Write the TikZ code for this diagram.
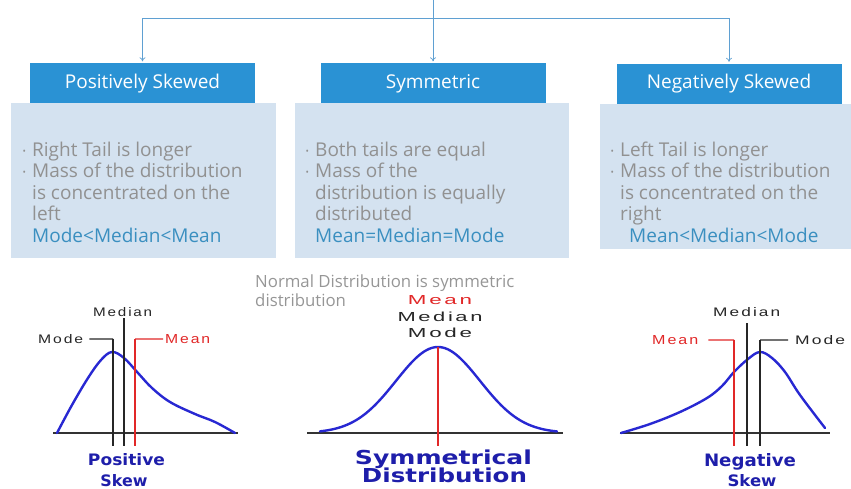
\documentclass[tikz,border=0pt]{standalone}
\usepackage{fontspec}
\setmainfont{Open Sans}
\newfontfamily\chartfont[LetterSpace=12]{Liberation Sans}
\newfontfamily\skewfont{DejaVu Sans}
\usetikzlibrary{arrows.meta,calc}
\definecolor{hdrblue}{RGB}{42,146,212}
\definecolor{lightbox}{RGB}{212,226,240}
\definecolor{graytxt}{RGB}{145,145,145}
\definecolor{notegray}{RGB}{150,150,150}
\definecolor{bluetxt}{RGB}{58,143,192}
\definecolor{connblue}{RGB}{95,160,210}
\definecolor{curveblue}{RGB}{40,40,210}
\definecolor{skewblue}{RGB}{30,30,170}
\definecolor{meanred}{RGB}{225,40,40}
\newcommand{\bul}{\makebox[9.5pt][l]{\raisebox{2pt}{\fontsize{9}{9}\selectfont •}}}
\newcommand{\ind}{\hspace*{9.5pt}}
\newcommand{\lbl}[3]{\resizebox{#1pt}{#2pt}{\chartfont #3}}
\newcommand{\skl}[3]{\resizebox{#1pt}{#2pt}{\skewfont\bfseries #3}}
\begin{document}
\begin{tikzpicture}[x=1pt,y=-1pt,
  hdr/.style={fill=hdrblue, text=white, minimum width=225pt, minimum height=40pt, inner sep=0pt, font=\fontsize{19}{21}\selectfont},
  lbox/.style={fill=lightbox, draw=none},
  boxtext/.style={anchor=north west, align=left, inner sep=0pt, text=graytxt, font=\fontsize{19}{21.5}\selectfont},
  conn/.style={draw=connblue, line width=0.7pt},
  arr/.style={conn, -{To[length=4pt,width=6pt]}},
  curve/.style={draw=curveblue, line width=2.4pt, line join=round, line cap=round},
  axis/.style={draw=black!80, line width=1.7pt},
  blk/.style={draw=black!85, line width=1.3pt},
  red/.style={draw=meanred, line width=1.3pt},
  clab/.style={inner sep=0pt, text=black!85},
  rlab/.style={clab, text=meanred},
  skewlab/.style={inner sep=0pt, anchor=base, text=skewblue},
  note/.style={inner sep=0pt, anchor=base west, text=notegray, font=\fontsize{16.8}{18}\selectfont}
]
\path[use as bounding box] (0,0) rectangle (851,489);

% light boxes
\path[lbox] (11,103) rectangle (276,258);
\path[lbox] (295,103) rectangle (569,258);
\path[lbox] (600,104) rectangle (851,249);

% headers
\node[hdr] (h1) at (142.5,83.5) {Positively Skewed};
\node[hdr] (h2) at (433,83.5) {Symmetric};
\node[hdr] (h3) at (729,84) {Negatively Skewed};

% connectors
\coordinate (top) at (433,0);
\coordinate (j) at (433,18);
\draw[conn] (top) -- (j);
\draw[arr, shorten >=2pt] (j) -- (h2.north);
\draw[arr, shorten >=2pt] (j) -| (h1.north);
\draw[arr, shorten >=2pt] (j) -| (h3.north);

% box texts
\node[boxtext] (t1) at (22.5,141.5) {\bul Right Tail is longer\\ \bul Mass of the distribution\\ \ind is concentrated on the\\ \ind left\\ \ind\textcolor{bluetxt}{Mode<Median<Mean}};
\node[boxtext] (t2) at (305.5,141.5) {\bul Both tails are equal\\ \bul Mass of the\\ \ind distribution is equally\\ \ind distributed\\ \ind\textcolor{bluetxt}{Mean=Median=Mode}};
\node[boxtext] (t3) at (610.5,141.5) {\bul Left Tail is longer\\ \bul Mass of the distribution\\ \ind is concentrated on the\\ \ind right\\ \ind\hspace*{9pt}\textcolor{bluetxt}{Mean<Median<Mode}};

% note
\node[note] (n1) at (255,287) {Normal Distribution is symmetric};
\node[note] (n2) at (255,306) {distribution};

% ---------- positive skew ----------
\coordinate (pa1) at (53,433); \coordinate (pa2) at (238,433);
\draw[axis] (pa1) -- (pa2);
\draw[curve] plot[smooth, tension=0.6] coordinates {(57,433) (72,405) (88,378) (101,360) (112,352) (124,358) (138,373) (152,388) (170,402) (195,414) (215,422) (235,433)};
\coordinate (pmo1) at (113,339); \coordinate (pmo2) at (113,446);
\coordinate (pme1) at (124,318); \coordinate (pme2) at (124,446);
\coordinate (pmn1) at (135,339); \coordinate (pmn2) at (135,446);
\draw[blk] (pmo1) -- (pmo2);
\draw[blk] (pme1) -- (pme2);
\draw[red] (pmn1) -- (pmn2);
\node[clab, anchor=base west] (pmol) at (38,343.5) {\lbl{45}{9}{Mode}};
\draw[blk] ($(pmol.east)+(6,0)$) -- (pmo1);
\node[clab, anchor=base west] (pmel) at (93,316) {\lbl{59}{9}{Median}};
\node[rlab, anchor=base west] (pmnl) at (165,343.5) {\lbl{45}{9}{Mean}};
\draw[red] (pmn1) -- ($(pmnl.west)+(-2,0)$);
\node[skewlab] (ps1) at (126.5,465) {\skl{77}{12}{Positive}};
\node[skewlab] (ps2) at (124,486) {\skl{47}{12}{Skew}};

% ---------- symmetric ----------
\coordinate (sa1) at (307,433); \coordinate (sa2) at (563,433);
\draw[axis] (sa1) -- (sa2);
\draw[curve] plot[domain=320:557, samples=90] (\x, {433-86*exp(-0.5*((\x-438)/42)^2)});
\coordinate (sm1) at (438,347); \coordinate (sm2) at (438,446);
\draw[red, line width=1.6pt] (sm1) -- (sm2);
\node[rlab, anchor=base] (sml1) at (440,304.5) {\lbl{64}{9}{Mean}};
\node[clab, anchor=base] (sml2) at (440,321.5) {\lbl{85}{9.5}{Median}};
\node[clab, anchor=base] (sml3) at (440,337.5) {\lbl{64}{9.5}{Mode}};
\node[skewlab] (ss1) at (443.5,464) {\skl{177}{14.6}{Symmetrical}};
\node[skewlab] (ss2) at (444.5,482) {\skl{165}{14.6}{Distribution}};

% ---------- negative skew ----------
\coordinate (na1) at (620,433); \coordinate (na2) at (830,433);
\draw[axis] (na1) -- (na2);
\draw[curve] plot[smooth, tension=0.6] coordinates {(621,433) (650,424) (680,412) (707,398) (722,386) (734,372) (748,359) (760,352) (772,358) (785,372) (800,395) (825,428)};
\coordinate (nmn1) at (734,340); \coordinate (nmn2) at (734,446);
\coordinate (nme1) at (747,323); \coordinate (nme2) at (747,446);
\coordinate (nmo1) at (760,340); \coordinate (nmo2) at (760,446);
\draw[red] (nmn1) -- (nmn2);
\draw[blk] (nme1) -- (nme2);
\draw[blk] (nmo1) -- (nmo2);
\node[rlab, anchor=base west] (nmnl) at (652,344.5) {\lbl{46}{9}{Mean}};
\draw[red] ($(nmnl.east)+(10,0)$) -- (nmn1);
\node[clab, anchor=base west] (nmel) at (713,316) {\lbl{67}{9}{Median}};
\node[clab, anchor=base west] (nmol) at (795,344.5) {\lbl{50}{9}{Mode}};
\draw[blk] (nmo1) -- ($(nmol.west)+(-7,0)$);
\node[skewlab] (ns1) at (750,466) {\skl{92}{13}{Negative}};
\node[skewlab] (ns2) at (752,486) {\skl{49}{12}{Skew}};
\end{tikzpicture}
\end{document}
